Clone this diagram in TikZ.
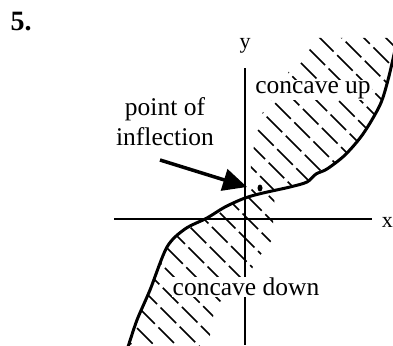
\documentclass[tikz,border=0pt]{standalone}
\usepackage{fontspec}
\setmainfont{Liberation Serif}
\usetikzlibrary{arrows.meta}
\tikzset{
  axisline/.style={line width=2pt},
  curveline/.style={line width=3pt, line join=round, line cap=round},
  hatchline/.style={line width=1.6pt, dash pattern=on 22pt off 5pt},
  lbl/.style={font=\fontsize{25.5}{30}\selectfont, fill=white, inner sep=1pt},
  axlbl/.style={font=\fontsize{22}{26}\selectfont, inner sep=0pt},
}
\begin{document}
\begin{tikzpicture}[x=1pt,y=-1pt]
\useasboundingbox (0,0) rectangle (393,345);
% hatching upper region
\begin{scope}
\clip plot[smooth] coordinates {(240,200) (245,198) (263,193) (290,187) (307,182) (316,174) (327,169) (345,155) (363,134) (380,105) (388,80) (395,50)} -- (395,38) -- (318,38) -- (290,70) -- (258,120) -- (251,165) -- (249,192) -- cycle;
\foreach \i in {-400,-378,...,400}{
  \pgfmathsetmacro\ph{mod(abs(\i)*7,27)}
  \draw[hatchline, dash phase=\ph pt] (\i,0) -- ++(400,400);
}
\end{scope}
% hatching lower region
\begin{scope}
\clip plot[smooth] coordinates {(128,347) (137,320) (150,290) (167,247) (185,229) (207,218) (225,207) (245,198) (263,193) (275,191)} -- (272,240) -- (255,262) -- (245,285) -- (215,305) -- (208,347) -- cycle;
\foreach \i in {-411,-389,...,400}{
  \pgfmathsetmacro\ph{mod(abs(\i)*11,27)}
  \draw[hatchline, dash phase=\ph pt] (\i,0) -- ++(400,400);
}
\end{scope}
% axes
\coordinate (yt) at (245,68);
\coordinate (yb) at (245,345);
\coordinate (xl) at (114,219);
\coordinate (xr) at (372,219);
\draw[axisline] (yt) -- (yb);
\draw[axisline] (xl) -- (xr);
\node[axlbl] (ylab) at (245,46) {y};
\node[axlbl, anchor=east] (xlab) at (393,222) {x};
% curve
\draw[curveline] plot[smooth] coordinates {(128,347) (137,320) (150,290) (167,247) (185,229) (207,218) (225,207) (245,198) (263,193) (290,187) (307,182) (316,174) (327,169) (345,155) (363,134) (380,105) (388,80) (395,50)};
% point
\fill (260,188) ellipse (2.5 and 3.5);
\coordinate (ip) at (247,187);
% labels
\node[lbl] (cu) at (313,90) {concave up};
\node[lbl] (cd) at (246,287) {concave down};
\node[lbl, fill=none, align=center, font=\fontsize{25.5}{30}\selectfont] (poi) at (165,122) {point of\\inflection};
\coordinate (as) at (160,160);
\draw[line width=3.5pt, -{Triangle[length=24pt,width=22pt]}] (as) -- (ip);
\node[font=\bfseries\fontsize{28}{30}\selectfont, inner sep=0pt] (num) at (21,22) {5.};
\end{tikzpicture}
\end{document}
